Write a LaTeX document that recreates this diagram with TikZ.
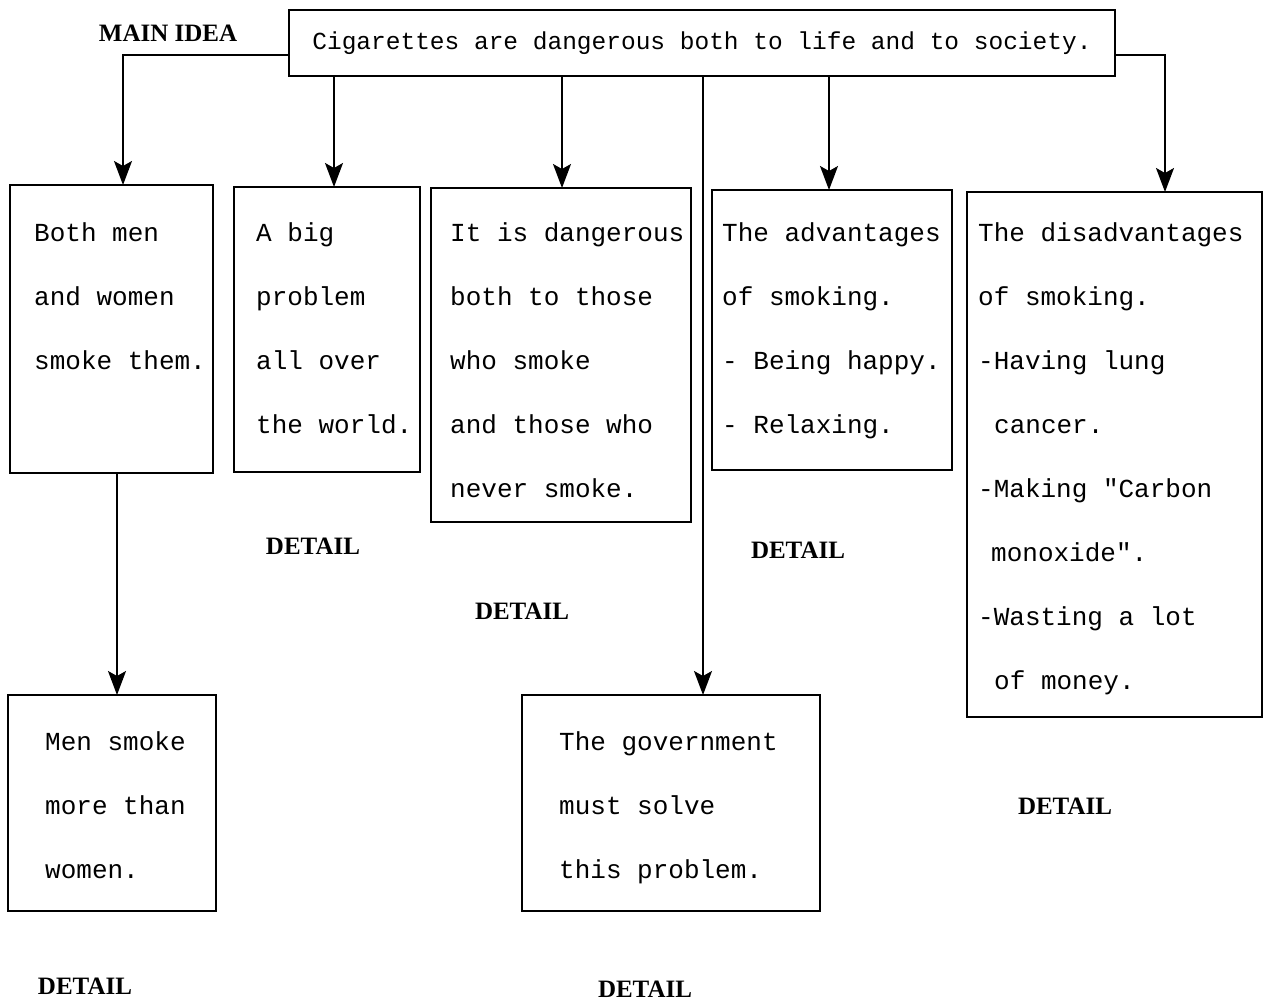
\documentclass[tikz,border=0pt]{standalone}
\usepackage{fontspec}
\setmainfont{Liberation Serif}
\setmonofont{Liberation Mono}
\usetikzlibrary{arrows.meta}
\begin{document}
\begin{tikzpicture}[x=1pt,y=-1pt,
 box/.style={draw, line width=1.8pt, inner sep=0pt, outer sep=0pt},
 txt/.style={anchor=north west, inner sep=0pt, align=left, font=\ttfamily\fontsize{26pt}{64pt}\selectfont},
 lab/.style={font=\bfseries\fontsize{25pt}{30pt}\selectfont, inner sep=0pt},
 arr/.style={line width=1.5pt, -{Stealth[length=24pt,width=18pt,inset=5pt]}}]
\useasboundingbox[fill=white] (0,0) rectangle (1264,1003);

% main idea
\node[box, minimum width=826pt, minimum height=66pt, font=\ttfamily\fontsize{24.5pt}{30pt}\selectfont] (m) at (702,43) {Cigarettes are dangerous both to life and to society.};
\node[lab] (l0) at (168,33) {MAIN IDEA};

% boxes
\node[box, minimum width=203pt, minimum height=288pt] (b1) at (111.5,329) {};
\node[box, minimum width=186pt, minimum height=285pt] (b2) at (327,329.5) {};
\node[box, minimum width=260pt, minimum height=334pt] (b3) at (561,355) {};
\node[box, minimum width=240pt, minimum height=280pt] (b4) at (832,330) {};
\node[box, minimum width=295pt, minimum height=525pt] (b5) at (1114.5,454.5) {};
\node[box, minimum width=208pt, minimum height=216pt] (b6) at (112,803) {};
\node[box, minimum width=298pt, minimum height=216pt] (b7) at (671,803) {};

% texts
\node[txt] (t1) at (34,222) {Both men\\and women\\smoke them.};
\node[txt] (t2) at (256,222) {A big\\problem\\all over\\the world.};
\node[txt] (t3) at (450,222) {It is dangerous\\both to those\\who smoke\\and those who\\never smoke.};
\node[txt] (t4) at (722,222) {The advantages\\of smoking.\\- Being happy.\\- Relaxing.};
\node[txt] (t5) at (978,222) {The disadvantages\\of smoking.\\-Having lung\\\hspace*{16pt}cancer.\\-Making "Carbon\\\hspace*{13pt}monoxide".\\-Wasting a lot\\\hspace*{16pt}of money.};
\node[txt] (t6) at (45,731) {Men smoke\\more than\\women.};
\node[txt] (t7) at (559,731) {The government\\must solve\\this problem.};

% labels
\node[lab] (d2) at (313,546) {DETAIL};
\node[lab] (d3) at (522,611) {DETAIL};
\node[lab] (d4) at (798,550) {DETAIL};
\node[lab] (d5) at (1065,806) {DETAIL};
\node[lab] (d6) at (85,986) {DETAIL};
\node[lab] (d7) at (645,989) {DETAIL};

% connectors
\draw[arr] ([yshift=-12pt]m.west) -| ([xshift=11.5pt]b1.north);
\draw[arr] (m.south -| 334,0) -- (b2.north -| 334,0);
\draw[arr] (m.south -| 562,0) -- (b3.north -| 562,0);
\draw[arr] (m.south -| 703,0) -- (b7.north -| 703,0);
\draw[arr] (m.south -| 829,0) -- (b4.north -| 829,0);
\draw[arr] ([yshift=-12pt]m.east) -| ([xshift=50.5pt]b5.north);
\draw[arr] (b1.south -| 117,0) -- (b6.north -| 117,0);
\end{tikzpicture}
\end{document}
